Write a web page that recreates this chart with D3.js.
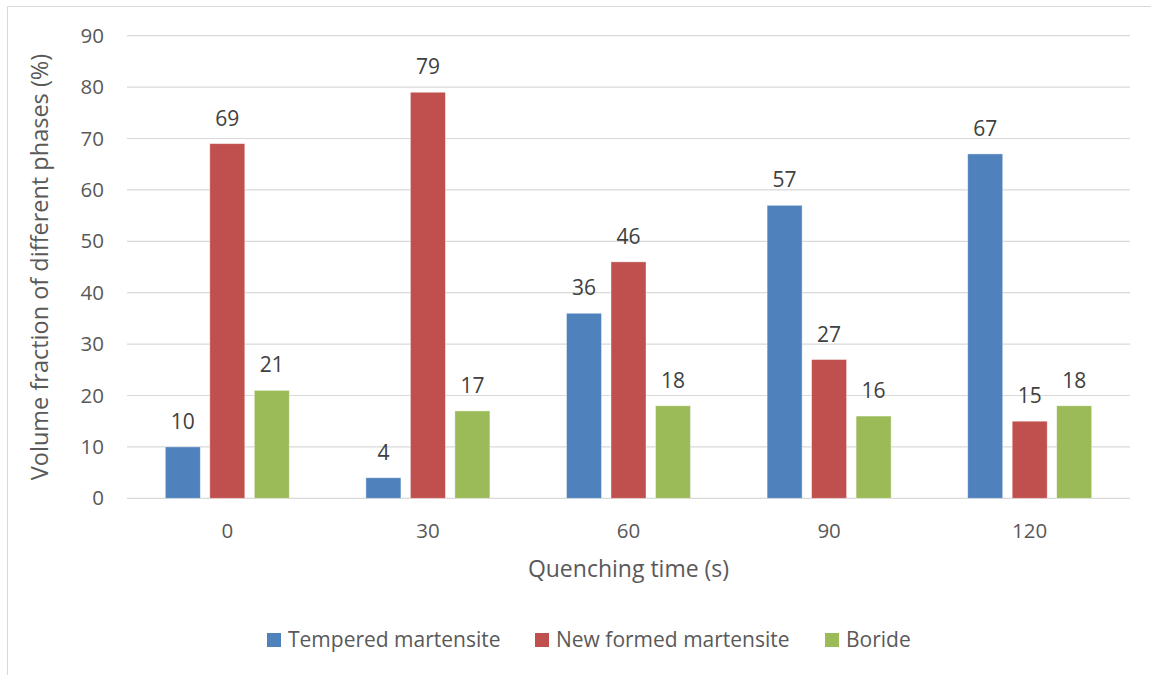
<!DOCTYPE html>
<html>
<head>
<meta charset="utf-8">
<script src="https://cdn.jsdelivr.net/npm/d3@7"></script>
<style>
  html, body { margin: 0; padding: 0; background: #fff; }
  svg text { font-family: "Open Sans", "Noto Sans", sans-serif; }
</style>
</head>
<body>
<svg id="chart" width="1151" height="675"></svg>
<script>
// Quenching times (x categories) and phase fractions (%)
const categories = ["0", "30", "60", "90", "120"];
const seriesNames = ["Tempered martensite", "New formed martensite", "Boride"];
const tempered = [10, 4, 36, 57, 67];
const newFormed = [69, 79, 46, 27, 15];
const boride = [21, 17, 18, 16, 18];
const yTicks = [0, 10, 20, 30, 40, 50, 60, 70, 80, 90];
const colors = ["#4f81bd", "#c0504d", "#9bbb59"];

const seriesValues = [tempered, newFormed, boride];

const svg = d3.select("#chart");
const W = 1151, H = 675;
const plot = { left: 127, right: 1130, top: 35.7, bottom: 498.3 };

// chart frame
svg.append("rect")
  .attr("x", 7.5).attr("y", 6.5)
  .attr("width", W + 10).attr("height", H + 10)
  .attr("fill", "#fff").attr("stroke", "#d9d9d9").attr("stroke-width", 1);

const x0 = d3.scaleBand().domain(categories).range([plot.left, plot.right]);
const groupWidth = 124;
const x1 = d3.scaleBand().domain(seriesNames).range([0, groupWidth]).paddingInner(0.213).paddingOuter(0);
const y = d3.scaleLinear().domain([0, 90]).range([plot.bottom, plot.top]);

// gridlines
svg.append("g")
  .selectAll("line")
  .data(yTicks)
  .join("line")
  .attr("x1", plot.left).attr("x2", plot.right)
  .attr("y1", d => y(d)).attr("y2", d => y(d))
  .attr("stroke", "#d9d9d9").attr("stroke-width", 1.2);

// y axis tick labels
const yAxis = d3.axisLeft(y).tickValues(yTicks).tickSize(0).tickPadding(23);
const gy = svg.append("g").attr("transform", `translate(${plot.left},0)`).call(yAxis);
gy.select(".domain").remove();
gy.selectAll("text").attr("font-size", 20.5).attr("fill", "#595959")
  .style("font-family", '"Open Sans", sans-serif');

// x axis labels
const xAxis = d3.axisBottom(x0).tickSize(0).tickPadding(25);
const gx = svg.append("g").attr("transform", `translate(0,${plot.bottom})`).call(xAxis);
gx.select(".domain").remove();
gx.selectAll("text").attr("font-size", 20.5).attr("fill", "#595959")
  .style("font-family", '"Open Sans", sans-serif');

// bars
const groups = svg.append("g").selectAll("g")
  .data(categories)
  .join("g")
  .attr("transform", c => `translate(${x0(c) + x0.bandwidth() / 2 - groupWidth / 2},0)`);

groups.selectAll("rect")
  .data((c, i) => seriesNames.map((s, k) => ({ s, k, v: seriesValues[k][i] })))
  .join("rect")
  .attr("x", d => x1(d.s))
  .attr("width", x1.bandwidth())
  .attr("y", d => y(d.v))
  .attr("height", d => y(0) - y(d.v))
  .attr("fill", d => colors[d.k])
  .attr("stroke", "#fff").attr("stroke-opacity", 0.5).attr("stroke-width", 0.8);

groups.selectAll("text.val")
  .data((c, i) => seriesNames.map((s, k) => ({ s, k, v: seriesValues[k][i] })))
  .join("text")
  .attr("class", "val")
  .attr("x", d => x1(d.s) + x1.bandwidth() / 2)
  .attr("y", d => y(d.v) - 18)
  .attr("text-anchor", "middle")
  .attr("font-size", 21)
  .attr("fill", "#404040")
  .text(d => d.v);

// axis titles
svg.append("text")
  .attr("transform", `translate(48,${(plot.top + plot.bottom) / 2}) rotate(-90)`)
  .attr("text-anchor", "middle")
  .attr("font-size", 23.5)
  .attr("fill", "#595959")
  .text("Volume fraction of different phases (%)");

svg.append("text")
  .attr("x", (plot.left + plot.right) / 2)
  .attr("y", 577)
  .attr("text-anchor", "middle")
  .attr("font-size", 23)
  .attr("fill", "#595959")
  .text("Quenching time (s)");

// legend
const legendX = [267, 535, 825];
const legend = svg.append("g").selectAll("g")
  .data(seriesNames)
  .join("g")
  .attr("transform", (d, i) => `translate(${legendX[i]},640)`);
legend.append("rect")
  .attr("x", 0).attr("y", -7).attr("width", 14).attr("height", 14)
  .attr("fill", (d, i) => colors[i]);
legend.append("text")
  .attr("x", 21).attr("y", 7)
  .attr("font-size", 21)
  .attr("fill", "#595959")
  .text(d => d);
</script>
</body>
</html>
